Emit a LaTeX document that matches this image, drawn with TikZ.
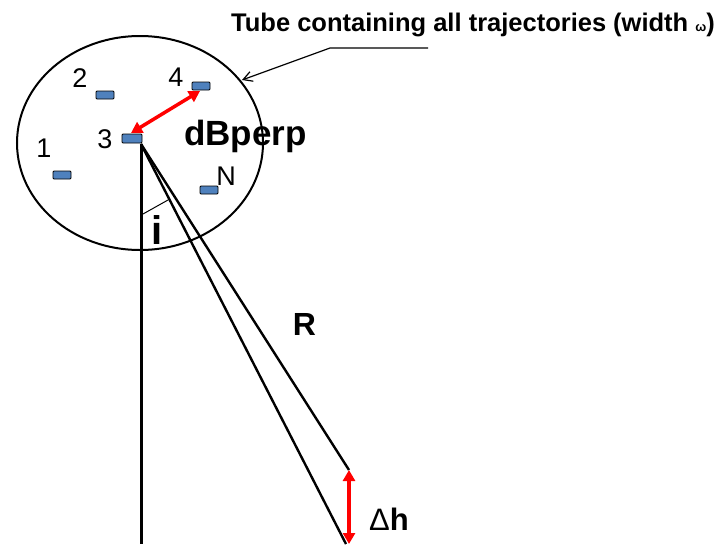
\documentclass[tikz,border=0pt]{standalone}
\usepackage{fontspec}
\setmainfont{Liberation Sans}
\usetikzlibrary{arrows.meta,shapes.geometric}
\begin{document}
\begin{tikzpicture}[x=1pt,y=-1pt,
  sat/.style={draw=black,line width=0.8pt,fill={rgb,255:red,79;green,129;blue,189},rounded corners=1pt,minimum width=18pt,minimum height=8pt,inner sep=0pt},
  num/.style={font=\fontsize{27}{27}\selectfont,inner sep=0pt,anchor=base},
  redarr/.style={draw=red,line width=3.5pt,{Triangle[length=11pt,width=12pt]}-{Triangle[length=11pt,width=12pt]}},
  ray/.style={line width=2.4pt}]
\useasboundingbox (0,0) rectangle (720,544);
\node[draw,ellipse,line width=2pt,minimum width=246pt,minimum height=214pt,inner sep=0pt] (tube) at (140,143) {};
\node[sat] (s2) at (105,95) {};
\node[sat] (s4) at (201,86) {};
\node[sat,minimum width=20pt,minimum height=9pt] (s3) at (132,138.5) {};
\node[sat] (s1) at (62,175) {};
\node[sat] (sN) at (209,190) {};
\node[num] (l1) at (44,157) {1};
\node[num] (l2) at (80,87) {2};
\node[num] (l3) at (105,148) {3};
\node[num] (l4) at (176,86) {4};
\node[num] (lN) at (226,185) {N};
\node[font=\fontsize{35}{35}\selectfont\bfseries,inner sep=0pt,anchor=base west] (dB) at (184,145) {dBperp};
\node[font=\fontsize{40}{40}\selectfont\bfseries,inner sep=0pt,anchor=base] (li) at (157,244) {i};
\node[font=\fontsize{32}{32}\selectfont\bfseries,inner sep=0pt,anchor=base] (lR) at (304.5,335) {R};
\node[font=\fontsize{31}{31}\selectfont,inner sep=0pt,anchor=base west] (ldh) at (369,530) {Δ\textbf{h}};
\node[font=\fontsize{25.5}{25.5}\selectfont\bfseries,inner sep=0pt,anchor=base west] (title) at (231,31) {Tube containing all trajectories\hspace{7pt}(width {\fontsize{13}{13}\selectfont ω})};
\coordinate (o) at (141,144);
\coordinate (bot) at (141,544);
\coordinate (e1) at (349,470);
\coordinate (e2) at (346,544);
\coordinate (e3) at (349,544);
\coordinate (a3) at (131,133);
\coordinate (a4) at (200,91);
\coordinate (ia) at (143,214);
\coordinate (ib) at (168,200);
\draw[ray,line width=3pt] (o) -- (bot);
\draw[ray] (o) -- (e1);
\draw[ray] (o) -- (e2);
\draw[redarr] (e3) -- (e1);
\draw[redarr] (a3) -- (a4);
\draw[line width=1pt] (ia) -- (ib);
\coordinate (c1) at (428,48);
\coordinate (c2) at (330,48);
\coordinate (c3) at (242,80);
\draw[line width=1.2pt,-{Straight Barb[length=9pt,width=10pt]}] (c1) -- (c2) -- (c3);
\end{tikzpicture}
\end{document}
